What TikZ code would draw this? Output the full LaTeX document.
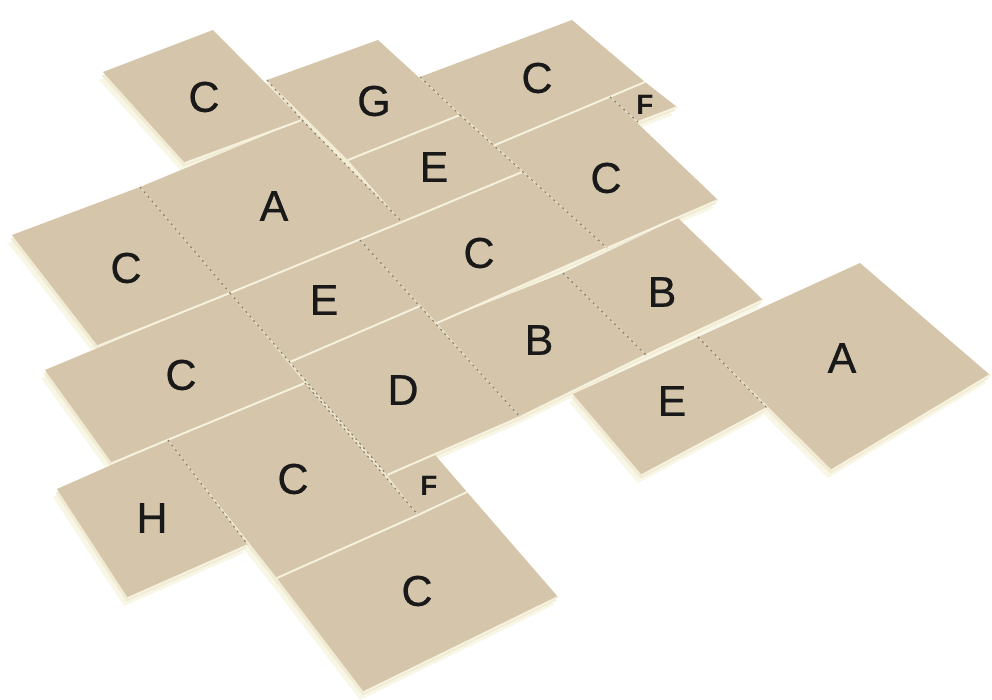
\documentclass[tikz,border=0pt]{standalone}
\usepackage{fontspec}
\setmainfont{Liberation Sans}
\newfontfamily\lblfont{Liberation Sans}[FakeBold=0.7]
\begin{document}
\begin{tikzpicture}[x=1pt,y=-1pt,
  lbl/.style={font=\lblfont\fontsize{43}{43}\selectfont, text=black!90, inner sep=0pt},
  lblsmall/.style={font=\fontsize{28}{28}\selectfont\bfseries, text=black!90, inner sep=0pt},
  rowseam/.style={draw=seamlight, line width=1.9pt, line cap=round},
  colbase/.style={draw=seamfaint, line width=0.8pt},
  colseam/.style={draw=seamdark, line width=1.1pt, dash pattern=on 2pt off 4pt}]
\definecolor{tan}{RGB}{213,198,171}
\definecolor{band}{RGB}{241,235,212}
\definecolor{glow}{RGB}{248,247,230}
\definecolor{seamlight}{RGB}{246,242,222}
\definecolor{seamfaint}{RGB}{228,219,198}
\definecolor{seamdark}{RGB}{140,126,100}
\useasboundingbox (0,0) rectangle (992,700);
\fill[white] (0,0) rectangle (992,700);
\def\TileList{103/72/213/30/302/120/185/163,
 267/80/378/40/460/115/348/160,
 420/77/572/20/645/82/495/145,
 610/97/645/82/677/107/638/122,
 348/160/460/115/522/172/402/222,
 495/145/610/97/718/200/607/248,
 140/187/302/120/402/222/230/293,
 12/235/140/187/230/293/98/346,
 360/240/522/172/607/248/437/323,
 230/293/360/240/420/306/290/362,
 290/362/420/306/520/417/387/475,
 437/323/563/273/646/355/520/417,
 563/273/678/218/763/300/646/355,
 573/394/698/337/767/408/642/475,
 698/337/860/263/990/375/832/470,
 45/370/230/293/305/383/112/463,
 57/489/168/440/248/545/128/598,
 168/440/305/383/418/515/277/578,
 387/475/435/455/467/492/418/515,
 277/578/467/492/558/597/364/692}
% soft glow
\foreach \a/\b/\c/\d/\e/\f/\g/\h in \TileList
  \fill[glow] (\a-4,\b+8) -- (\c-4,\d+8) -- (\e-4,\f+8) -- (\g-4,\h+8) -- cycle;
% thickness
\foreach \a/\b/\c/\d/\e/\f/\g/\h in \TileList
  \fill[band] (\a-1.5,\b+3.5) -- (\c-1.5,\d+3.5) -- (\e-1.5,\f+3.5) -- (\g-1.5,\h+3.5) -- cycle;
% faces
\foreach \a/\b/\c/\d/\e/\f/\g/\h in \TileList
  \fill[tan] (\a,\b) -- (\c,\d) -- (\e,\f) -- (\g,\h) -- cycle;
% row seams (lower edges)
\foreach \a/\b/\c/\d/\e/\f/\g/\h in \TileList
  \draw[rowseam] (\g,\h) -- (\e,\f);
% column seams
\foreach \p/\q/\r/\s in {267/80/302/120, 302/120/402/222, 420/77/460/115,
  460/115/607/248, 610/97/638/122, 140/187/230/293, 230/293/387/475,
  305/383/418/515, 360/240/520/417, 563/273/646/355, 698/337/767/408,
  168/440/248/545}
{\draw[colbase] (\p,\q) -- (\r,\s);
 \draw[colseam] (\p,\q) -- (\r,\s);}
% labels
\node[lbl] (lC1) at (204,97) {C};
\node[lbl] (lG)  at (374,101) {G};
\node[lbl] (lC2) at (537,78) {C};
\node[lblsmall] (lF1) at (645,105) {F};
\node[lbl] (lE1) at (434,167) {E};
\node[lbl] (lC3) at (606,178) {C};
\node[lbl] (lA1) at (274,206) {A};
\node[lbl] (lC4) at (126,268) {C};
\node[lbl] (lC5) at (479,253) {C};
\node[lbl] (lE2) at (324,300) {E};
\node[lbl] (lB1) at (662,292) {B};
\node[lbl] (lB2) at (539,340) {B};
\node[lbl] (lC6) at (181,375) {C};
\node[lbl] (lD)  at (403,390) {D};
\node[lbl] (lA2) at (842,358) {A};
\node[lbl] (lE3) at (672,401) {E};
\node[lbl] (lC7) at (293,479) {C};
\node[lblsmall] (lF2) at (429,486) {F};
\node[lbl] (lH)  at (152,518) {H};
\node[lbl] (lC8) at (417,591) {C};
\end{tikzpicture}
\end{document}
